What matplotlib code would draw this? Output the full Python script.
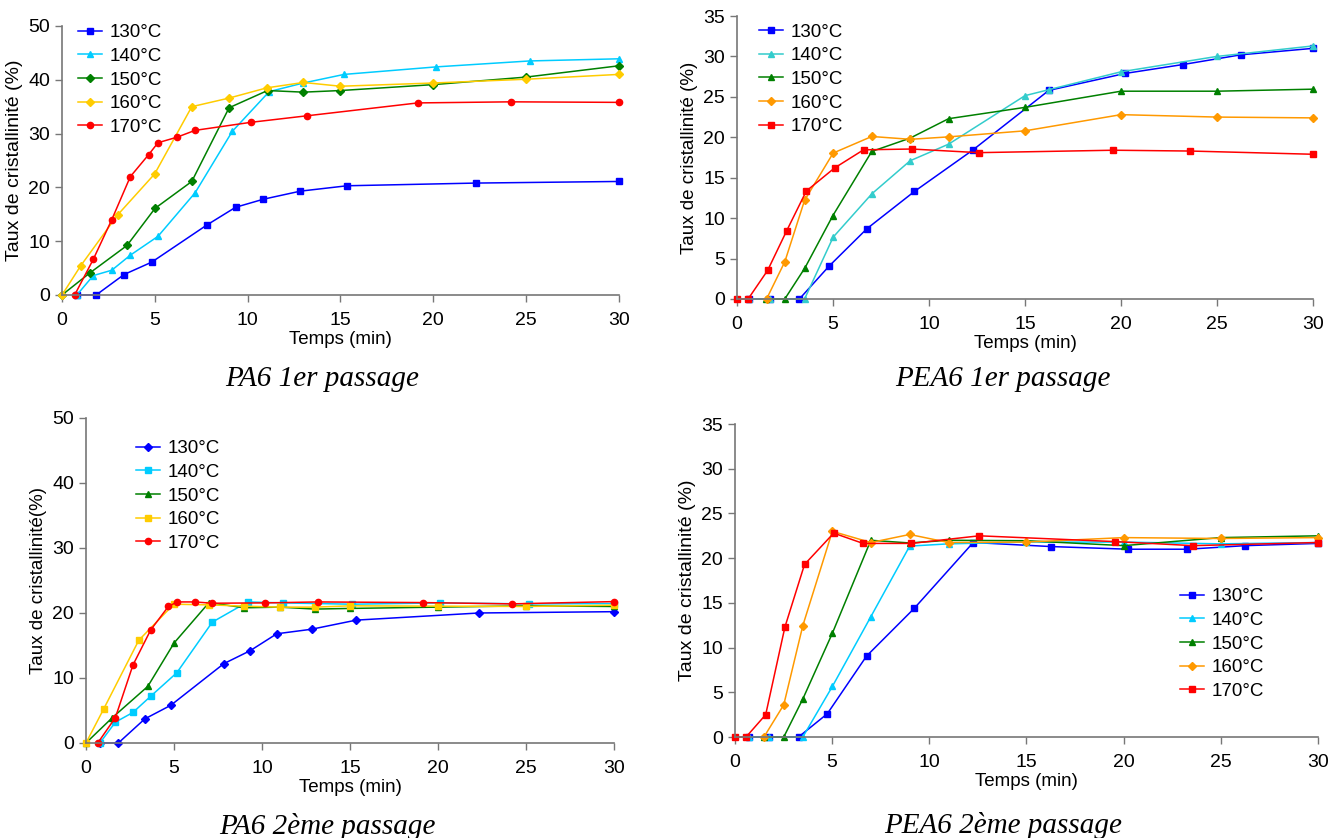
import matplotlib
matplotlib.use("Agg")
import matplotlib.pyplot as plt

plt.rcParams["font.family"] = ["Liberation Sans", "DejaVu Sans"]

temps_labels = ["130°C", "140°C", "150°C", "160°C", "170°C"]

# PA6 1er passage
pa6_1_t = [
    [0.8, 1.84, 3.34, 4.83, 7.8, 9.35, 10.85, 12.84, 15.36, 22.3, 30],
    [0.8, 1.68, 2.68, 3.68, 5.17, 7.17, 9.17, 11.16, 13.0, 15.2, 20.17, 25.19, 30],
    [0, 1.5, 3.5, 5.01, 6.99, 9.0, 11.07, 13.0, 15.0, 20.0, 25.0, 30],
    [0, 1.0, 3.0, 4.99, 6.99, 9.0, 11.03, 13.0, 15.0, 20.0, 25.0, 30],
    [0.68, 1.68, 2.68, 3.68, 4.67, 5.17, 6.17, 7.17, 10.19, 13.18, 19.17, 24.19, 30],
]
pa6_1_x = [
    [0, 0, 3.8, 6.1, 13.0, 16.3, 17.8, 19.3, 20.3, 20.8, 21.1],
    [0, 3.6, 4.6, 7.4, 10.9, 19.0, 30.4, 37.8, 39.4, 41.0, 42.4, 43.5, 43.9],
    [0, 4.1, 9.2, 16.1, 21.1, 34.8, 38.0, 37.7, 38.0, 39.1, 40.5, 42.6],
    [0, 5.4, 14.9, 22.5, 35.0, 36.6, 38.5, 39.5, 38.8, 39.4, 40.1, 41.0],
    [0, 6.6, 14.0, 22.0, 26.1, 28.3, 29.3, 30.6, 32.1, 33.3, 35.7, 35.9, 35.8],
]

# PEA6 1er passage
pea6_1_t = [
    [0.62, 1.74, 3.25, 4.79, 6.77, 9.24, 12.27, 16.24, 20.22, 23.23, 26.24, 30],
    [0.62, 1.74, 3.52, 5.01, 7.02, 9.02, 11.02, 15.0, 16.26, 20.0, 24.99, 30],
    [1.5, 2.49, 3.54, 4.99, 7.02, 9.02, 11.02, 15.0, 20.0, 25.0, 30],
    [1.54, 2.49, 3.52, 5.01, 7.02, 9.02, 11.02, 15.0, 20.0, 25.0, 30],
    [0, 0.58, 1.6, 2.58, 3.61, 5.08, 6.59, 9.09, 12.58, 19.6, 23.59, 30],
]
pea6_1_x = [
    [0, 0, 0, 4.05, 8.7, 13.3, 18.4, 25.8, 27.9, 29.0, 30.2, 31.0],
    [0, 0, 0, 7.65, 13.0, 17.1, 19.15, 25.15, 25.9, 28.1, 30.0, 31.3],
    [0, 0, 3.85, 10.3, 18.25, 19.9, 22.3, 23.7, 25.7, 25.7, 25.95],
    [0, 4.6, 12.2, 18.05, 20.1, 19.75, 20.05, 20.8, 22.8, 22.5, 22.4],
    [0, 0, 3.55, 8.4, 13.35, 16.2, 18.45, 18.55, 18.1, 18.4, 18.3, 17.9],
]

# PA6 2eme passage
pa6_2_t = [
    [0.79, 1.84, 3.34, 4.82, 7.83, 9.33, 10.84, 12.82, 15.35, 22.34, 30],
    [0.79, 1.67, 2.67, 3.68, 5.16, 7.18, 9.19, 11.17, 15.1, 20.14, 25.15, 30],
    [0, 1.5, 3.51, 5.01, 6.99, 8.99, 11.0, 13.0, 14.99, 20.0, 25.01, 30],
    [0, 1.0, 3.0, 4.99, 6.99, 8.99, 11.0, 13.0, 15.0, 20.0, 25.01, 30],
    [0.67, 1.67, 2.67, 3.68, 4.68, 5.18, 6.18, 7.18, 10.17, 13.17, 19.16, 24.18, 30],
]
pa6_2_x = [
    [0, 0, 3.7, 5.8, 12.2, 14.2, 16.8, 17.5, 18.9, 20.0, 20.2],
    [0, 3.2, 4.7, 7.2, 10.8, 18.6, 21.7, 21.55, 21.35, 21.55, 21.4, 21.45],
    [0, 3.9, 8.7, 15.4, 21.6, 20.8, 20.9, 20.6, 20.7, 20.9, 21.1, 21.0],
    [0, 5.2, 15.8, 21.35, 21.25, 21.05, 20.9, 20.9, 21.1, 21.05, 21.0, 21.2],
    [0, 3.9, 12.0, 17.4, 21.0, 21.7, 21.7, 21.5, 21.55, 21.7, 21.6, 21.4, 21.75],
]

# PEA6 2eme passage
pea6_2_t = [
    [0.73, 1.76, 3.27, 4.75, 6.77, 9.23, 12.26, 16.24, 20.24, 23.27, 26.26, 30],
    [0.73, 1.76, 3.49, 5.01, 6.99, 8.99, 10.99, 14.99, 20.0, 24.99, 30],
    [1.5, 2.51, 3.49, 5.01, 6.99, 8.99, 10.99, 14.99, 20.0, 24.99, 30],
    [1.49, 2.51, 3.49, 5.01, 6.99, 8.99, 10.99, 14.99, 20.0, 24.99, 30],
    [0, 0.57, 1.58, 2.57, 3.58, 5.08, 6.59, 9.08, 12.57, 19.58, 23.58, 30],
]
pea6_2_x = [
    [0, 0, 0, 2.6, 9.05, 14.4, 21.75, 21.3, 21.0, 21.0, 21.4, 21.65],
    [0, 0, 0, 5.65, 13.45, 21.35, 21.6, 21.8, 21.8, 21.6, 21.75],
    [0, 0, 4.25, 11.6, 22.0, 21.7, 22.0, 21.95, 21.4, 22.3, 22.5],
    [0, 3.6, 12.45, 23.0, 21.75, 22.65, 21.75, 21.8, 22.3, 22.2, 22.3],
    [0, 0, 2.5, 12.3, 19.3, 22.8, 21.65, 21.65, 22.5, 21.85, 21.4, 21.75],
]


def draw_panel(ax, ts, xs, colors, markers, ymax, ystep, ylabel, ylsize,
               leg_anchor):
    for t, x, c, m, lab in zip(ts, xs, colors, markers, temps_labels):
        ms = 3.8 if m == "D" else 4.5
        ax.plot(t, x, color=c, marker=m, markersize=ms, linewidth=1.1,
                label=lab, clip_on=False)
    ax.set_xlim(0, 30)
    ax.set_ylim(0, ymax)
    ax.set_xticks(range(0, 31, 5))
    ax.set_yticks(range(0, ymax + 1, ystep))
    for s in ["top", "right"]:
        ax.spines[s].set_visible(False)
    for s in ["left", "bottom"]:
        ax.spines[s].set_color("#777777")
        ax.spines[s].set_linewidth(1.2)
    ax.tick_params(direction="out", length=5, width=1, color="#777777",
                   labelsize=14)
    ax.tick_params(axis="x", pad=7)
    ax.set_xlabel("Temps (min)", fontsize=13.5, labelpad=2)
    ax.set_ylabel(ylabel, fontsize=ylsize, labelpad=4)
    ax.legend(loc="upper left", bbox_to_anchor=leg_anchor, frameon=False,
              fontsize=13.5, handlelength=1.3, handletextpad=0.4,
              labelspacing=0.35, borderaxespad=0)


fig = plt.figure(figsize=(13.31, 8.38), dpi=100)

ax1 = fig.add_axes([0.0466, 0.648, 0.4184, 0.321])
draw_panel(ax1, pa6_1_t, pa6_1_x,
           ["#0000ff", "#00ccff", "#008000", "#ffcc00", "#ff0000"],
           ["s", "^", "D", "D", "o"], 50, 10,
           "Taux de cristallinité (%)", 14, (0.015, 1.035))

ax2 = fig.add_axes([0.5537, 0.6432, 0.4328, 0.3377])
draw_panel(ax2, pea6_1_t, pea6_1_x,
           ["#0000ff", "#33cccc", "#008000", "#ff9900", "#ff0000"],
           ["s", "^", "^", "D", "s"], 35, 5,
           "Taux de cristallinité (%)", 13.5, (0.025, 1.0))

ax3 = fig.add_axes([0.0646, 0.1134, 0.3967, 0.3878])
draw_panel(ax3, pa6_2_t, pa6_2_x,
           ["#0000ff", "#00ccff", "#008000", "#ffcc00", "#ff0000"],
           ["D", "s", "^", "s", "o"], 50, 10,
           "Taux de cristallinité(%)", 13.5, (0.08, 0.955))

ax4 = fig.add_axes([0.5522, 0.1205, 0.438, 0.3735])
draw_panel(ax4, pea6_2_t, pea6_2_x,
           ["#0000ff", "#00ccff", "#008000", "#ff9900", "#ff0000"],
           ["s", "^", "^", "D", "s"], 35, 5,
           "Taux de cristallinité (%)", 14, (0.75, 0.5))

title_kw = dict(ha="center", va="center", fontsize=21, style="italic",
                family=["Liberation Serif", "DejaVu Serif"])
fig.text(0.242, 0.548, "PA6 1er passage", **title_kw)
fig.text(0.7536, 0.548, "PEA6 1er passage", **title_kw)
fig.text(0.2457, 0.0143, "PA6 2ème passage", **title_kw)
fig.text(0.7536, 0.0155, "PEA6 2ème passage", **title_kw)

fig.savefig("out.png", dpi=100)
